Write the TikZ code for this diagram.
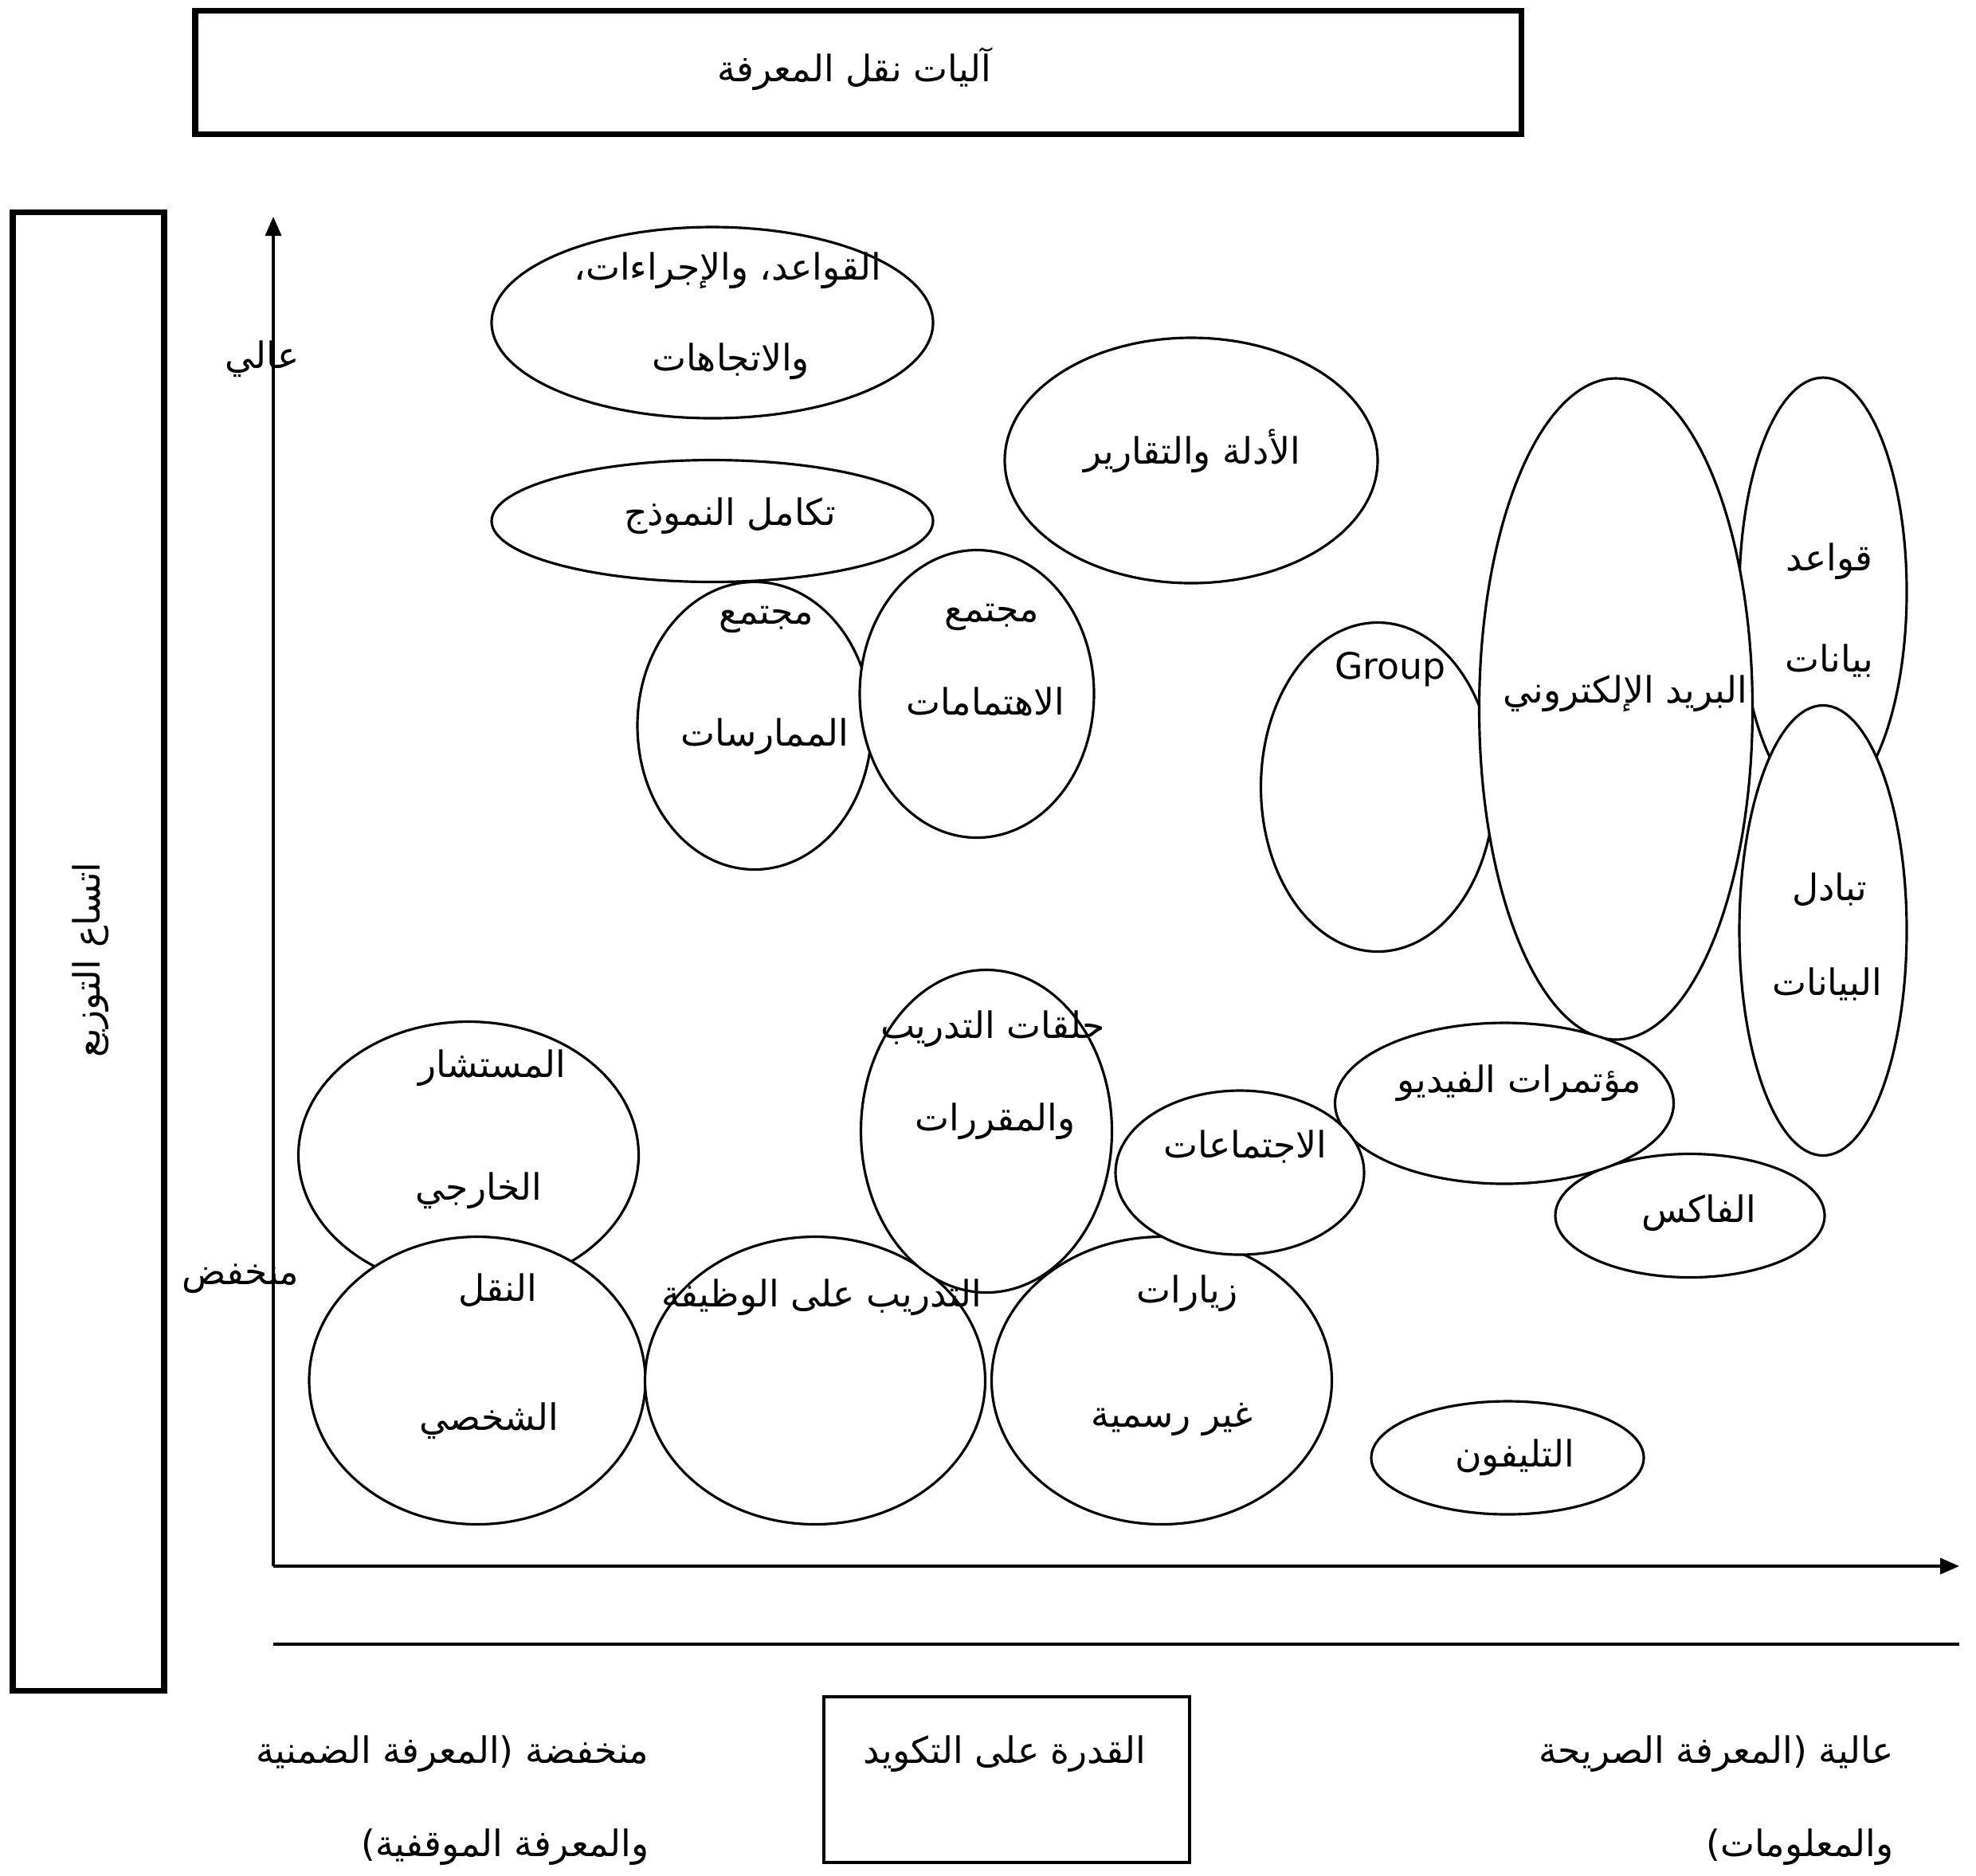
\documentclass[tikz,border=0pt]{standalone}
\usepackage{fontspec}
\usepackage{tikz}
\usetikzlibrary{arrows.meta,positioning,shapes.geometric}
\setmainfont{DejaVu Sans}
\newfontfamily\arabicfont[Script=Arabic]{DejaVu Sans}
\TeXXeTstate=1
\newcommand{\artxt}[1]{\arabicfont\beginR #1\endR}

\begin{document}
\begin{tikzpicture}[
    bubble/.style={ellipse, draw=black, line width=0.9pt, fill=white, inner sep=0pt},
    lbl/.style={inner sep=0pt, font=\fontsize{13}{15}\selectfont},
    frame/.style={rectangle, draw=black, line width=2pt, inner sep=0pt},
    axis/.style={draw=black, line width=1pt, -{Triangle[length=0.24cm, width=0.2cm]}}
    ]
    \useasboundingbox (0,0) rectangle (24.8,-23.54);

    \node[frame, minimum width=16.64cm, minimum height=1.55cm] (title) at (10.77,-0.905) {};
    \node[frame, minimum width=1.90cm, minimum height=18.56cm] (spread) at (1.11,-11.94) {};
    \node[frame, line width=1.2pt, minimum width=4.59cm, minimum height=2.08cm] (coding) at (12.635,-22.34) {};

    \coordinate (origin) at (3.43,-19.66);
    \coordinate (ytop) at (3.43,-2.72);
    \coordinate (xend) at (24.59,-19.66);
    \coordinate (ruleL) at (3.43,-20.64);
    \coordinate (ruleR) at (24.59,-20.64);
    \draw[axis] (origin) -- (ytop);
    \draw[axis] (origin) -- (xend);
    \draw[line width=1pt] (ruleL) -- (ruleR);

    \node[bubble, minimum width=4.68cm, minimum height=3.08cm] (guides) at (14.95,-5.78) {};
    \node[bubble, minimum width=5.54cm, minimum height=2.40cm] (rules) at (8.94,-4.05) {};
    \node[bubble, minimum width=5.54cm, minimum height=1.53cm] (model) at (8.94,-6.54) {};
    \node[bubble, minimum width=2.94cm, minimum height=3.61cm] (practice) at (9.47,-9.11) {};
    \node[bubble, minimum width=2.94cm, minimum height=3.61cm] (interest) at (12.26,-8.71) {};
    \node[bubble, minimum width=2.10cm, minimum height=5.38cm] (database) at (22.88,-7.43) {};
    \node[bubble, minimum width=2.10cm, minimum height=5.65cm] (exchange) at (22.88,-11.68) {};
    \node[bubble, minimum width=2.93cm, minimum height=4.13cm] (group) at (17.29,-9.88) {};
    \node[bubble, minimum width=3.43cm, minimum height=8.30cm] (email) at (20.28,-8.90) {};
    \node[bubble, minimum width=3.38cm, minimum height=1.55cm] (fax) at (21.21,-15.26) {};
    \node[bubble, minimum width=4.25cm, minimum height=2.02cm] (video) at (18.88,-13.85) {};
    \node[bubble, minimum width=4.27cm, minimum height=3.35cm] (consultant) at (5.88,-14.50) {};
    \node[bubble, minimum width=4.22cm, minimum height=3.61cm] (personal) at (5.99,-17.33) {};
    \node[bubble, minimum width=4.27cm, minimum height=3.61cm] (onjob) at (10.23,-17.33) {};
    \node[bubble, minimum width=4.27cm, minimum height=3.61cm] (visits) at (14.58,-17.33) {};
    \node[bubble, minimum width=3.15cm, minimum height=4.05cm] (workshops) at (12.38,-14.20) {};
    \node[bubble, minimum width=3.12cm, minimum height=2.06cm] (meetings) at (15.56,-14.72) {};
    \node[bubble, minimum width=3.42cm, minimum height=1.42cm] (phone) at (18.92,-18.30) {};

    \node[lbl] (titleT) at (10.72,-0.87) {\artxt{آليات نقل المعرفة}};
    \node[lbl, rotate=90] (spreadT) at (1.14,-12.05) {\artxt{اتساع التوزيع}};
    \node[lbl] (codingT) at (12.61,-22.02) {\artxt{القدرة على التكويد}};
    \node[lbl, anchor=east] (high) at (3.76,-4.51) {\artxt{عالي}};
    \node[lbl, anchor=east] (low) at (3.76,-16.05) {\artxt{منخفض}};
    \node[lbl, anchor=east] (tacitA) at (8.15,-22.02) {\artxt{منخفضة (المعرفة الضمنية}};
    \node[lbl, anchor=east] (tacitB) at (8.15,-23.19) {\artxt{والمعرفة الموقفية)}};
    \node[lbl, anchor=east] (explicitA) at (23.77,-22.02) {\artxt{عالية (المعرفة الصريحة}};
    \node[lbl, anchor=east] (explicitB) at (23.77,-23.19) {\artxt{والمعلومات)}};

    \node[lbl] (rulesA) at (9.13,-3.40) {\artxt{القواعد، والإجراءات،}};
    \node[lbl] (rulesB) at (9.17,-4.54) {\artxt{والاتجاهات}};
    \node[lbl] (guidesT) at (14.96,-5.66) {\artxt{الأدلة والتقارير}};
    \node[lbl] (modelT) at (9.16,-6.48) {\artxt{تكامل النموذج}};
    \node[lbl] (practiceA) at (9.62,-7.78) {\artxt{مجتمع}};
    \node[lbl] (practiceB) at (9.60,-9.25) {\artxt{الممارسات}};
    \node[lbl] (interestA) at (12.45,-7.75) {\artxt{مجتمع}};
    \node[lbl] (interestB) at (12.37,-8.81) {\artxt{الاهتمامات}};
    \node[lbl] (groupT) at (17.45,-8.40) {Group};
    \node[lbl] (emailT) at (20.40,-8.71) {\artxt{البريد الإلكتروني}};
    \node[lbl] (databaseA) at (22.96,-7.05) {\artxt{قواعد}};
    \node[lbl] (databaseB) at (22.96,-8.29) {\artxt{بيانات}};
    \node[lbl] (exchangeA) at (22.96,-11.17) {\artxt{تبادل}};
    \node[lbl] (exchangeB) at (22.93,-12.35) {\artxt{البيانات}};
    \node[lbl] (videoT) at (19.07,-13.60) {\artxt{مؤتمرات الفيديو}};
    \node[lbl] (faxT) at (21.32,-15.23) {\artxt{الفاكس}};
    \node[lbl] (meetingsT) at (15.63,-14.39) {\artxt{الاجتماعات}};
    \node[lbl] (workshopsA) at (12.46,-12.92) {\artxt{حلقات التدريب}};
    \node[lbl] (workshopsB) at (12.49,-14.08) {\artxt{والمقررات}};
    \node[lbl] (consultantA) at (6.18,-13.41) {\artxt{المستشار}};
    \node[lbl] (consultantB) at (6.01,-14.95) {\artxt{الخارجي}};
    \node[lbl] (personalA) at (6.25,-16.20) {\artxt{النقل}};
    \node[lbl] (personalB) at (6.14,-17.84) {\artxt{الشخصي}};
    \node[lbl] (onjobT) at (10.31,-16.29) {\artxt{التدريب على الوظيفة}};
    \node[lbl] (visitsA) at (14.90,-16.24) {\artxt{زيارات}};
    \node[lbl] (visitsB) at (14.71,-17.82) {\artxt{غير رسمية}};
    \node[lbl] (phoneT) at (19.01,-18.30) {\artxt{التليفون}};
\end{tikzpicture}
\end{document}
